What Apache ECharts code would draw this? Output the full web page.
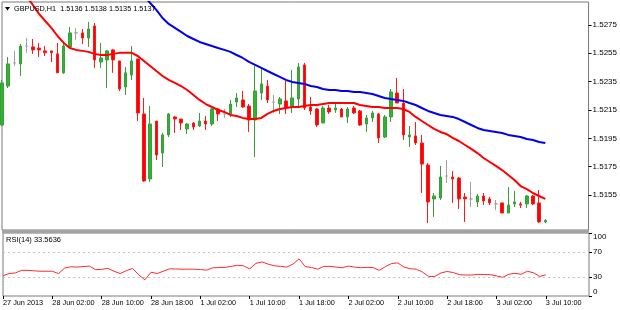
<!DOCTYPE html>
<html>
<head>
<meta charset="utf-8">
<script src="https://cdn.jsdelivr.net/npm/echarts@6/dist/echarts.min.js"></script>
<style>
html,body{margin:0;padding:0;background:#fff;}
#chart{width:620px;height:310px;}
</style>
</head>
<body>
<div id="chart"></div>
<script>
// ---- data (GBPUSD H1, 27 Jun 18:00 .. 3 Jul 10:00 2013) ----
const title = 'GBPUSD,H1  1.5136 1.5138 1.5135 1.5137';
const rsiTitle = 'RSI(14) 33.5636';
const timeTicks = ['27 Jun 2013','28 Jun 02:00','28 Jun 10:00','28 Jun 18:00','1 Jul 02:00','1 Jul 10:00','1 Jul 18:00','2 Jul 02:00','2 Jul 10:00','2 Jul 18:00','3 Jul 02:00','3 Jul 10:00'];
const barsPerTick = 8;
const emptyBarsRight = 7;
const priceTicks = [1.5155,1.5175,1.5195,1.5215,1.5235,1.5255,1.5275];
const rsiTicks = [0,30,70,100];
const rsiLevels = [70,30];
const priceMin = 1.51303, priceMax = 1.52912;
const lastPrice = 1.5137;

const open = [
1.52044,1.52319,1.52482,1.52475,1.52601,1.52595,1.52587,1.52567,1.52567,1.52546,
1.52412,1.52595,1.52694,1.52694,1.52658,1.52743,1.52489,1.52503,1.52574,1.52496,
1.52312,1.52397,1.52510,1.52122,1.51663,1.52072,1.51846,1.51974,1.52101,1.52086,
1.52016,1.52058,1.52037,1.52072,1.52051,1.52157,1.52122,1.52122,1.52206,1.52221,
1.52178,1.52079,1.52270,1.52319,1.52206,1.52192,1.52214,1.52178,1.52228,1.52468,
1.52171,1.52157,1.52058,1.52164,1.52150,1.52157,1.52101,1.52164,1.52143,1.52051,
1.52094,1.52122,1.51959,1.52101,1.52270,1.52199,1.51959,1.51967,1.51917,1.51762,
1.51522,1.51529,1.51684,1.51677,1.51670,1.51536,1.51522,1.51501,1.51543,1.51522,
1.51487,1.51494,1.51423,1.51487,1.51487,1.51487,1.51543,1.51494,1.5136];
const close = [
1.52341,1.52475,1.52482,1.52601,1.52601,1.52574,1.52574,1.52553,1.52553,1.52412,
1.52601,1.52694,1.52694,1.52658,1.52722,1.52503,1.52517,1.52567,1.52503,1.52298,
1.52412,1.52496,1.52129,1.51649,1.52051,1.51832,1.51974,1.52122,1.52086,1.52058,
1.52051,1.52030,1.52072,1.52051,1.52157,1.52122,1.52122,1.52192,1.52235,1.52171,
1.52079,1.52284,1.52334,1.52221,1.52206,1.52228,1.52164,1.52235,1.52454,1.52164,
1.52143,1.52044,1.52164,1.52136,1.52164,1.52101,1.52157,1.52129,1.52044,1.52094,
1.52129,1.51953,1.52101,1.52277,1.52199,1.51974,1.51974,1.51917,1.51768,1.51501,
1.51543,1.51677,1.51684,1.51663,1.51522,1.51522,1.51522,1.51543,1.51508,1.51494,
1.51487,1.51423,1.51479,1.51501,1.51479,1.51543,1.51487,1.5136,1.5137];
const low = [
1.52037,1.52305,1.52461,1.52390,1.52553,1.52546,1.52524,1.52531,1.52489,1.52412,
1.52404,1.52595,1.52644,1.52616,1.52595,1.52447,1.52447,1.52305,1.52412,1.52284,
1.52256,1.52362,1.52072,1.51642,1.51642,1.51797,1.51748,1.51959,1.51988,1.52009,
1.51980,1.52009,1.52030,1.52009,1.52037,1.52072,1.52094,1.52101,1.52171,1.52164,
1.51995,1.51818,1.52221,1.52199,1.52129,1.52122,1.52122,1.52129,1.52164,1.52150,
1.52115,1.52030,1.52058,1.52122,1.52129,1.52101,1.52058,1.52122,1.52037,1.51995,
1.52065,1.51917,1.51953,1.52065,1.52199,1.51938,1.51889,1.51903,1.51564,1.51352,
1.51395,1.51515,1.51635,1.51494,1.51451,1.51360,1.51465,1.51465,1.51479,1.51479,
1.51444,1.51423,1.51423,1.51465,1.51458,1.51458,1.51479,1.51352,1.5135];
const high = [
1.52362,1.52524,1.52567,1.52616,1.52658,1.52651,1.52623,1.52601,1.52567,1.52623,
1.52623,1.52736,1.52729,1.52722,1.52771,1.52764,1.52623,1.52574,1.52581,1.52496,
1.52454,1.52601,1.52510,1.52235,1.52178,1.52072,1.51988,1.52129,1.52108,1.52086,
1.52058,1.52065,1.52129,1.52108,1.52164,1.52164,1.52157,1.52221,1.52270,1.52284,
1.52192,1.52461,1.52447,1.52362,1.52256,1.52242,1.52355,1.52432,1.52482,1.52482,
1.52242,1.52164,1.52178,1.52185,1.52199,1.52164,1.52171,1.52178,1.52150,1.52115,
1.52143,1.52129,1.52115,1.52298,1.52376,1.52298,1.52037,1.52065,1.51974,1.51775,
1.51564,1.51755,1.51797,1.51719,1.51677,1.51564,1.51642,1.51557,1.51564,1.51536,
1.51515,1.51494,1.51606,1.51578,1.51501,1.51550,1.51550,1.51585,1.5138];
const maFast = [
null,null,null,null,1.52948,1.52891,1.52828,1.52778,1.52729,1.52672,
1.52623,1.52587,1.52574,1.52567,1.52560,1.52546,1.52538,1.52538,1.52546,1.52553,
1.52553,1.52553,1.52531,1.52496,1.52461,1.52425,1.52390,1.52362,1.52341,1.52319,
1.52291,1.52256,1.52221,1.52192,1.52171,1.52150,1.52136,1.52115,1.52108,1.52094,
1.52086,1.52086,1.52094,1.52122,1.52143,1.52157,1.52164,1.52171,1.52171,1.52178,
1.52185,1.52185,1.52192,1.52199,1.52199,1.52199,1.52199,1.52199,1.52185,1.52178,
1.52171,1.52171,1.52164,1.52164,1.52164,1.52157,1.52136,1.52101,1.52072,1.52044,
1.52016,1.51995,1.51980,1.51953,1.51931,1.51903,1.51875,1.51846,1.51811,1.51783,
1.51755,1.51726,1.51691,1.51656,1.51613,1.51592,1.51564,1.51543,1.51522];
const maSlow = [
null,null,null,null,null,null,null,null,null,null,
null,null,null,null,null,null,null,null,null,null,
null,null,null,1.52955,1.52905,1.52856,1.52799,1.52757,1.52729,1.52701,
1.52672,1.52651,1.52630,1.52616,1.52601,1.52587,1.52574,1.52560,1.52538,1.52517,
1.52489,1.52468,1.52447,1.52425,1.52404,1.52383,1.52362,1.52348,1.52341,1.52334,
1.52319,1.52312,1.52298,1.52291,1.52291,1.52284,1.52284,1.52277,1.52277,1.52270,
1.52263,1.52249,1.52235,1.52228,1.52221,1.52214,1.52199,1.52185,1.52164,1.52143,
1.52129,1.52115,1.52108,1.52101,1.52086,1.52065,1.52044,1.52023,1.52009,1.52002,
1.51995,1.51988,1.51974,1.51967,1.51959,1.51945,1.51938,1.51924,1.51917];
const rsi = [
32.0,35.7,36.6,40.7,40.7,40.0,39.3,39.3,39.3,35.6,
44.3,46.4,45.9,46.7,47.5,41.8,42.3,43.8,39.3,35.6,
40.2,43.8,33.6,25.7,37.7,35.7,39.3,43.1,42.9,42.6,
42.6,42.6,42.0,41.0,44.8,45.1,45.4,47.0,48.7,47.9,
43.1,51.8,54.1,50.5,47.9,47.0,45.9,50.5,59.0,46.7,
45.4,42.6,47.0,47.0,45.9,44.8,47.5,45.9,44.9,45.4,
45.1,40.7,46.7,51.6,52.5,45.9,43.3,42.6,38.0,31.1,
31.1,36.6,38.9,37.2,33.9,33.3,33.3,34.4,34.1,33.9,
31.8,29.7,34.4,36.1,34.4,39.3,36.9,31.1,33.56];

// ---- build ----
const nBars = open.length;
const categories = [];
for (let i = 0; i < nBars + emptyBarsRight; i++) categories.push(String(i));
const candles = open.map((o, i) => [o, close[i], low[i], high[i]]);
const FONT = 'Liberation Sans, Arial, sans-serif';
const isTick = (idx) => idx % barsPerTick === 0 && idx / barsPerTick < timeTicks.length;

const chart = echarts.init(document.getElementById('chart'), null, {renderer: 'canvas'});
chart.setOption({
  animation: false,
  backgroundColor: '#ffffff',
  textStyle: {fontFamily: FONT},
  grid: [
    {left: 2, top: 2, width: 587, height: 228, show: true, borderColor: '#7a7a7a', borderWidth: 1, backgroundColor: '#ffffff'},
    {left: 2, top: 233, width: 587, height: 63, show: true, borderColor: '#7a7a7a', borderWidth: 1, backgroundColor: '#ffffff'}
  ],
  xAxis: [
    {type: 'category', gridIndex: 0, data: categories, boundaryGap: false,
     axisLine: {show: false}, axisTick: {show: false}, axisLabel: {show: false}, splitLine: {show: false}},
    {type: 'category', gridIndex: 1, data: categories, boundaryGap: false,
     axisLine: {show: false},
     axisTick: {show: true, interval: (i) => isTick(i), length: 3, lineStyle: {color: '#000'}},
     axisLabel: {show: true, interval: (i) => isTick(i), formatter: (v, i) => timeTicks[i / barsPerTick] || '',
       align: 'left', margin: 3, fontSize: 7.3, color: '#000', fontFamily: FONT},
     splitLine: {show: false}}
  ],
  yAxis: [
    {type: 'value', gridIndex: 0, position: 'right', min: priceMin, max: priceMax, scale: true,
     axisLine: {show: false}, splitLine: {show: false},
     axisTick: {show: true, customValues: priceTicks, length: 3, lineStyle: {color: '#000'}},
     axisLabel: {show: true, customValues: priceTicks, formatter: (v) => v.toFixed(4), margin: 4,
       fontSize: 8, color: '#000', fontFamily: FONT}},
    {type: 'value', gridIndex: 1, position: 'right', min: 0, max: 100,
     axisLine: {show: false}, splitLine: {show: false},
     axisTick: {show: true, customValues: rsiTicks, length: 3, lineStyle: {color: '#000'}},
     axisLabel: {show: true, customValues: rsiTicks, margin: 4, fontSize: 8, color: '#000', fontFamily: FONT,
       verticalAlignMaxLabel: 'top', verticalAlignMinLabel: 'bottom'}}
  ],
  series: [
    {type: 'candlestick', xAxisIndex: 0, yAxisIndex: 0, data: candles, barWidth: 3, clip: true,
     itemStyle: {color: '#2db52d', color0: '#ff0000', borderColor: '#3a9e3a', borderColor0: '#ff1a1a',
       borderColorDoji: '#a0a0a0', borderWidth: 1},
     markLine: {silent: true, symbol: ['none', 'none'], animation: false,
       lineStyle: {color: '#a9b3bf', type: 'solid', width: 1},
       label: {show: true, position: 'end', formatter: (p) => p.value.toFixed(4), backgroundColor: '#000',
         color: '#fff', fontSize: 8, padding: [1, 2, 0, 2], distance: 1, fontFamily: FONT},
       data: [{yAxis: lastPrice}]}},
    {type: 'line', xAxisIndex: 0, yAxisIndex: 0, data: maFast, showSymbol: false, symbol: 'none', clip: true,
     lineStyle: {color: '#ff0000', width: 2}, connectNulls: false},
    {type: 'line', xAxisIndex: 0, yAxisIndex: 0, data: maSlow, showSymbol: false, symbol: 'none', clip: true,
     lineStyle: {color: '#0000ee', width: 2}},
    {type: 'line', xAxisIndex: 1, yAxisIndex: 1, data: rsi, showSymbol: false, symbol: 'none', clip: true,
     lineStyle: {color: '#ff2a2a', width: 1},
     markLine: {silent: true, symbol: ['none', 'none'], animation: false, label: {show: false},
       lineStyle: {color: '#c4c4c4', type: [2, 3], width: 1},
       data: rsiLevels.map(v => ({yAxis: v}))}}
  ],
  graphic: [
    {type: 'rect', shape: {x: 2, y: 230, width: 587, height: 3}, style: {fill: '#a3a3a3'}, z: 10},
    {type: 'polygon', shape: {points: [[5, 7], [10, 7], [7.5, 10.5]]}, style: {fill: '#000'}, z: 10},
    {type: 'text', x: 14, y: 9, style: {text: title, fill: '#000', font: '7.3px ' + FONT, textVerticalAlign: 'middle'}, z: 10},
    {type: 'text', x: 6, y: 240, style: {text: rsiTitle, fill: '#000', font: '7.5px ' + FONT, textVerticalAlign: 'middle'}, z: 10}
  ]
});
</script>
</body>
</html>
